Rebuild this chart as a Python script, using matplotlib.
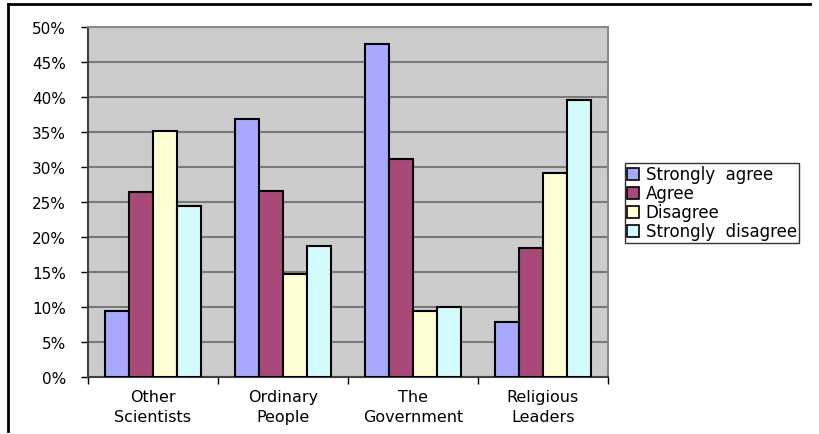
import matplotlib
matplotlib.use('Agg')
import matplotlib.pyplot as plt
import matplotlib.ticker as mticker
import numpy as np
from matplotlib.lines import Line2D

groups = ['Other\nScientists', 'Ordinary\nPeople', 'The\nGovernment', 'Religious\nLeaders']
series = ['Strongly  agree', 'Agree', 'Disagree', 'Strongly  disagree']
strongly_agree = [9.5, 36.8, 47.6, 7.9]
agree = [26.4, 26.6, 31.1, 18.5]
disagree = [35.1, 14.7, 9.5, 29.1]
strongly_disagree = [24.4, 18.7, 10.0, 39.6]
colors = ['#a8a8ff', '#a8497a', '#ffffd5', '#d3fbfd']

fig = plt.figure(figsize=(8.2, 4.35), dpi=100)
ax = fig.add_axes([88 / 820, 1 - 378 / 435, 520 / 820, 350 / 435])
ax.set_facecolor('#cccccc')

x = np.arange(len(groups))
w = 0.185
for i, vals in enumerate([strongly_agree, agree, disagree, strongly_disagree]):
    ax.bar(x + (i - 1.5) * w, vals, w, color=colors[i], edgecolor='black',
           linewidth=1.5, label=series[i], zorder=3)

ax.set_xlim(-0.5, 3.5)
ax.set_ylim(0, 50)
ax.yaxis.set_major_locator(mticker.MultipleLocator(5))
ax.yaxis.set_major_formatter(mticker.FuncFormatter(lambda v, p: '%d%%' % v))
ax.grid(axis='y', color='#7a7a7a', linewidth=1.5, zorder=1)
ax.set_axisbelow(True)

ax.set_xticks(x)
ax.set_xticklabels(groups, fontsize=11.5, linespacing=1.35)
ax.tick_params(axis='x', length=0, pad=9)
ax.set_xticks(np.arange(-0.5, 4, 1), minor=True)
ax.tick_params(axis='x', which='minor', length=5, width=1, color='black')
ax.tick_params(axis='y', labelsize=11, length=5, width=1, color='black', pad=11)

for s in ['top', 'right']:
    ax.spines[s].set_color('#8a8a8a')
    ax.spines[s].set_linewidth(1.5)
for s in ['left', 'bottom']:
    ax.spines[s].set_color('#404040')
    ax.spines[s].set_linewidth(1.5)

# outer chart frame (top and left edges only)
fig.add_artist(Line2D([8 / 820, 810 / 820], [1 - 5 / 435, 1 - 5 / 435],
                      transform=fig.transFigure, color='black', linewidth=2))
fig.add_artist(Line2D([8 / 820, 8 / 820], [1 - 5 / 435, 1 - 432 / 435],
                      transform=fig.transFigure, color='black', linewidth=2))

leg = fig.legend(loc='upper left', bbox_to_anchor=(625 / 820, 1 - 164 / 435),
                 fontsize=12, frameon=True, fancybox=False, borderpad=0.15,
                 handlelength=0.7, handleheight=0.7, handletextpad=0.4,
                 labelspacing=0.06, borderaxespad=0)
leg.get_frame().set_edgecolor('black')
leg.get_frame().set_linewidth(1)
for h in leg.legend_handles:
    h.set_linewidth(1.2)

plt.savefig('out.png', dpi=100)
